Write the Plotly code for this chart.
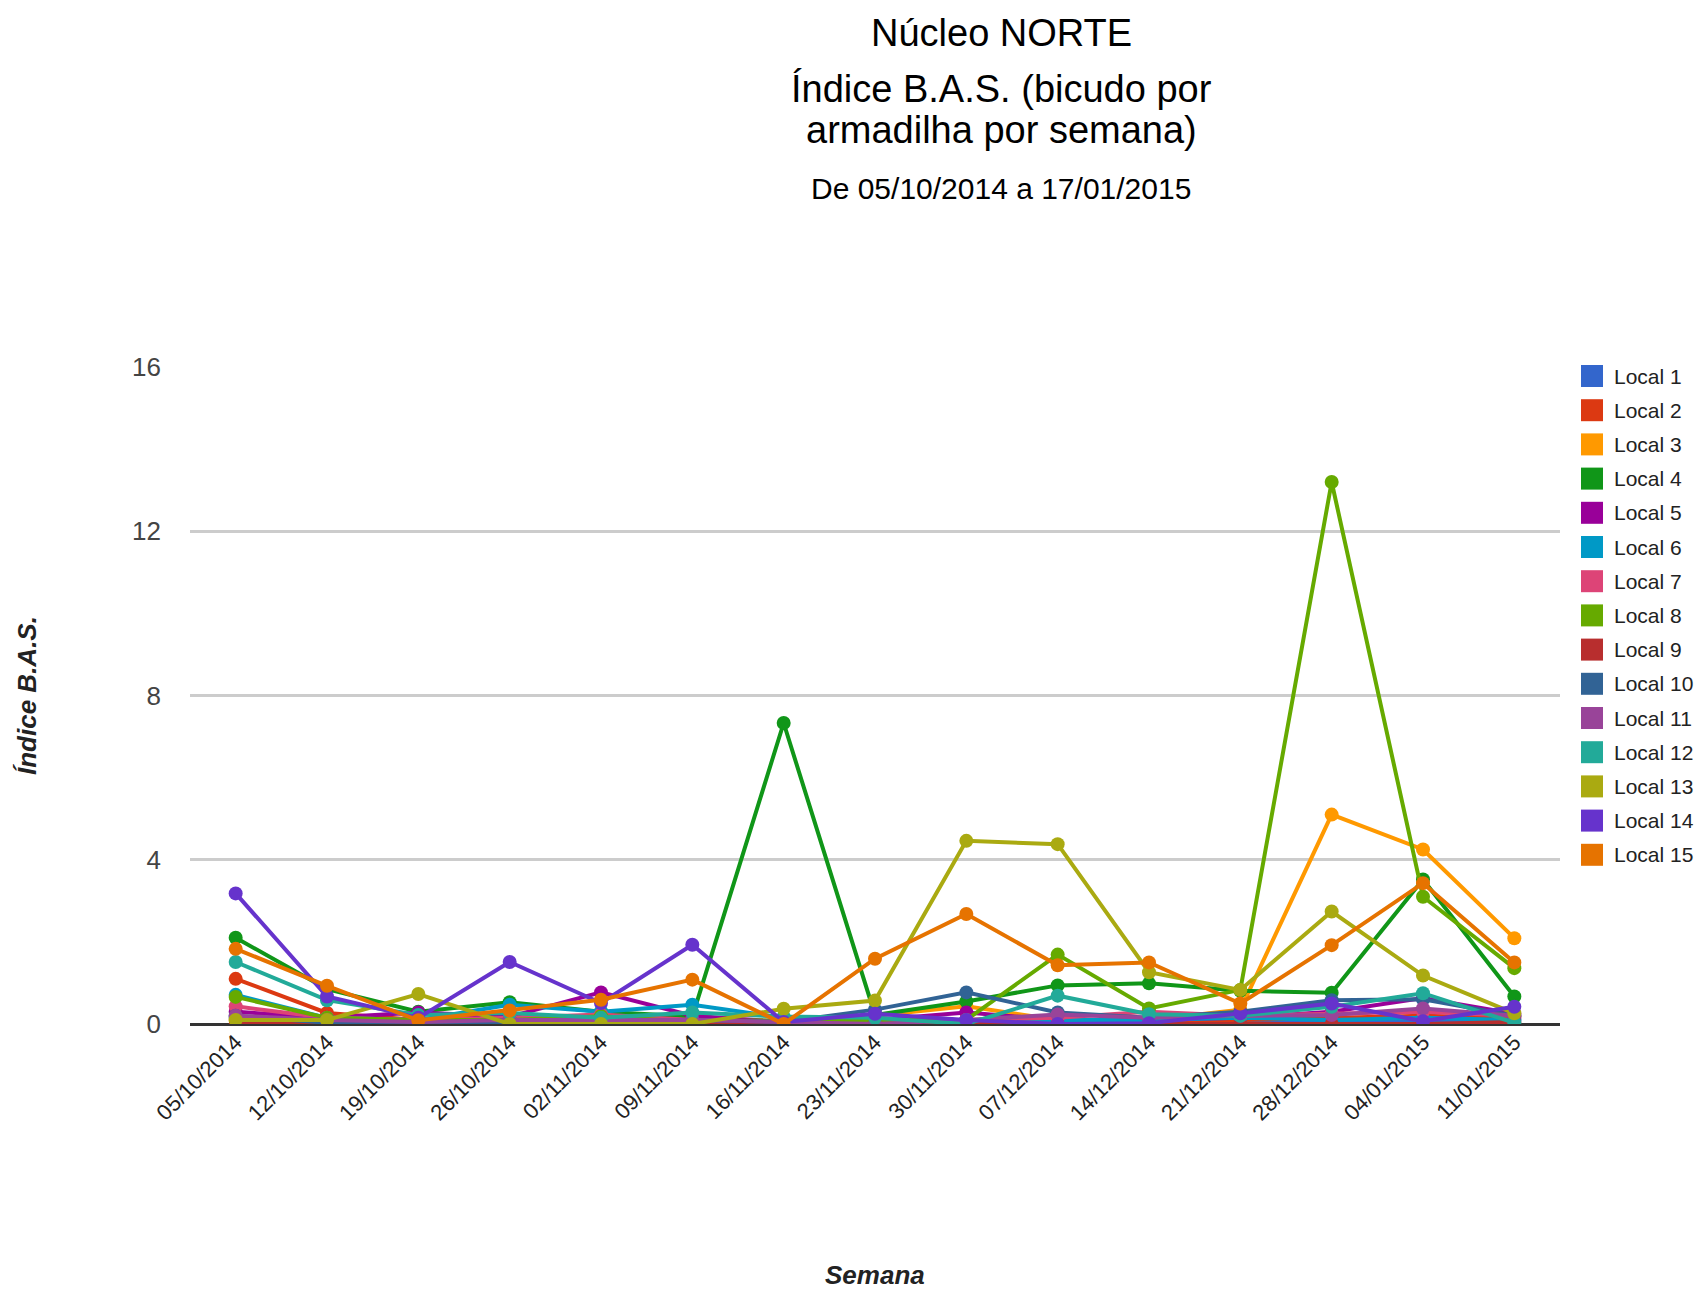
import plotly.graph_objects as go

semanas = ["05/10/2014", "12/10/2014", "19/10/2014", "26/10/2014", "02/11/2014",
           "09/11/2014", "16/11/2014", "23/11/2014", "30/11/2014", "07/12/2014",
           "14/12/2014", "21/12/2014", "28/12/2014", "04/01/2015", "11/01/2015"]

local_1 = [0.15, 0.05, 0.05, 0.10, 0.05, 0.05, 0.05, 0.10, 0.05, 0.05, 0.05, 0.10, 0.10, 0.10, 0.10]
local_2 = [1.10, 0.27, 0.10, 0.10, 0.05, 0.05, 0.00, 0.05, 0.05, 0.05, 0.05, 0.10, 0.15, 0.20, 0.15]
local_3 = [0.10, 0.10, 0.10, 0.20, 0.15, 0.10, 0.05, 0.20, 0.43, 0.10, 0.10, 0.35, 5.10, 4.25, 2.09]
local_4 = [2.10, 0.85, 0.30, 0.53, 0.30, 0.18, 7.33, 0.22, 0.55, 0.94, 0.99, 0.81, 0.76, 3.52, 0.67]
local_5 = [0.30, 0.15, 0.28, 0.18, 0.77, 0.20, 0.05, 0.10, 0.28, 0.10, 0.10, 0.15, 0.30, 0.63, 0.25]
local_6 = [0.71, 0.15, 0.10, 0.47, 0.30, 0.47, 0.15, 0.15, 0.00, 0.10, 0.10, 0.15, 0.10, 0.15, 0.10]
local_7 = [0.43, 0.15, 0.10, 0.15, 0.23, 0.10, 0.05, 0.05, 0.10, 0.15, 0.30, 0.20, 0.25, 0.30, 0.20]
local_8 = [0.66, 0.15, 0.10, 0.10, 0.19, 0.05, 0.10, 0.10, 0.10, 1.69, 0.38, 0.83, 13.20, 3.10, 1.36]
local_9 = [0.00, 0.05, 0.05, 0.00, 0.00, 0.00, 0.00, 0.00, 0.00, 0.00, 0.00, 0.00, 0.00, 0.00, 0.05]
local_10 = [0.20, 0.03, 0.00, 0.05, 0.05, 0.10, 0.05, 0.35, 0.77, 0.28, 0.15, 0.30, 0.58, 0.60, 0.20]
local_11 = [0.20, 0.10, 0.05, 0.10, 0.10, 0.10, 0.05, 0.00, 0.10, 0.23, 0.15, 0.20, 0.22, 0.38, 0.20]
local_12 = [1.51, 0.58, 0.22, 0.27, 0.15, 0.28, 0.18, 0.15, 0.00, 0.69, 0.24, 0.20, 0.42, 0.75, 0.03]
local_13 = [0.10, 0.10, 0.73, 0.00, 0.00, 0.00, 0.37, 0.57, 4.46, 4.38, 1.26, 0.83, 2.74, 1.18, 0.26]
local_14 = [3.18, 0.67, 0.15, 1.51, 0.51, 1.93, 0.05, 0.25, 0.10, 0.00, 0.02, 0.26, 0.50, 0.07, 0.42]
local_15 = [1.83, 0.93, 0.09, 0.33, 0.59, 1.08, 0.00, 1.59, 2.68, 1.43, 1.50, 0.50, 1.92, 3.43, 1.50]

nomes = ["Local %d" % i for i in range(1, 16)]
series = [local_1, local_2, local_3, local_4, local_5, local_6, local_7, local_8,
          local_9, local_10, local_11, local_12, local_13, local_14, local_15]
cores = ["#3366cc", "#dc3912", "#ff9900", "#109618", "#990099", "#0099c6", "#dd4477",
         "#66aa00", "#b82e2e", "#316395", "#994499", "#22aa99", "#aaaa11", "#6633cc", "#e67300"]

y_ticks = [0, 4, 8, 12, 16]

OFF = 8  # page body margin
W, H = 1705 - 2 * OFF, 1299 - 2 * OFF
L, R, T, B = 190 - OFF, 1560 - OFF, 367 - OFF, 1024 - OFF  # plot area in figure pixels
pw, ph = R - L, B - T


def px(x):
    return (x - OFF - L) / pw


def py(y):
    return (B - (y - OFF)) / ph


FONT = "Arial, Liberation Sans, sans-serif"

fig = go.Figure()
for nome, vals, cor in zip(nomes, series, cores):
    fig.add_trace(go.Scatter(
        x=list(range(len(semanas))), y=vals, name=nome, mode="lines+markers",
        line=dict(color=cor, width=4), marker=dict(color=cor, size=14),
        showlegend=False))

annotations = []
shapes = []

# titles
for txt, yy, sz in [("Núcleo NORTE", 33, 38),
                    ("Índice B.A.S. (bicudo por", 89, 38),
                    ("armadilha por semana)", 130, 38),
                    ("De 05/10/2014 a 17/01/2015", 188, 30)]:
    annotations.append(dict(text=txt, x=px(1001), y=py(yy), xref="paper", yref="paper",
                            xanchor="center", yanchor="middle", showarrow=False,
                            font=dict(family=FONT, size=sz, color="#000000")))

# axis titles
annotations.append(dict(text="<b><i>Semana</i></b>", x=px(875), y=py(1275), xref="paper",
                        yref="paper", xanchor="center", yanchor="middle", showarrow=False,
                        font=dict(family=FONT, size=26, color="#222222")))
annotations.append(dict(text="<b><i>Índice B.A.S.</i></b>", x=px(27), y=py(696), xref="paper",
                        yref="paper", xanchor="center", yanchor="middle", showarrow=False,
                        textangle=-90, font=dict(family=FONT, size=26, color="#222222")))

# legend
for i, (nome, cor) in enumerate(zip(nomes, cores)):
    cy = 376 + 34.2 * i
    shapes.append(dict(type="rect", xref="paper", yref="paper",
                       x0=px(1581), x1=px(1603), y0=py(cy + 11), y1=py(cy - 11),
                       fillcolor=cor, line=dict(width=0)))
    annotations.append(dict(text=nome, x=px(1612), y=py(cy), xref="paper", yref="paper",
                            xanchor="left", yanchor="middle", showarrow=False,
                            font=dict(family=FONT, size=21, color="#222222")))

fig.update_layout(
    width=W, height=H,
    margin=dict(l=L, r=W - R, t=T, b=H - B, pad=0),
    paper_bgcolor="white", plot_bgcolor="white",
    font=dict(family=FONT),
    annotations=annotations, shapes=shapes,
    xaxis=dict(tickmode="array", tickvals=list(range(len(semanas))), ticktext=semanas,
               range=[-0.5, len(semanas) - 0.5], tickangle=-45, showgrid=False,
               zeroline=False, showline=False, ticks="",
               tickfont=dict(family=FONT, size=22, color="#222222")),
    yaxis=dict(range=[0, 16], tickvals=y_ticks, showgrid=True, gridcolor="#cccccc",
               gridwidth=2.5, zeroline=True, zerolinecolor="#333333", zerolinewidth=3,
               showline=False, ticks="", ticklabelstandoff=28,
               tickfont=dict(family=FONT, size=26, color="#444444")),
)

fig.write_html("out.html")
